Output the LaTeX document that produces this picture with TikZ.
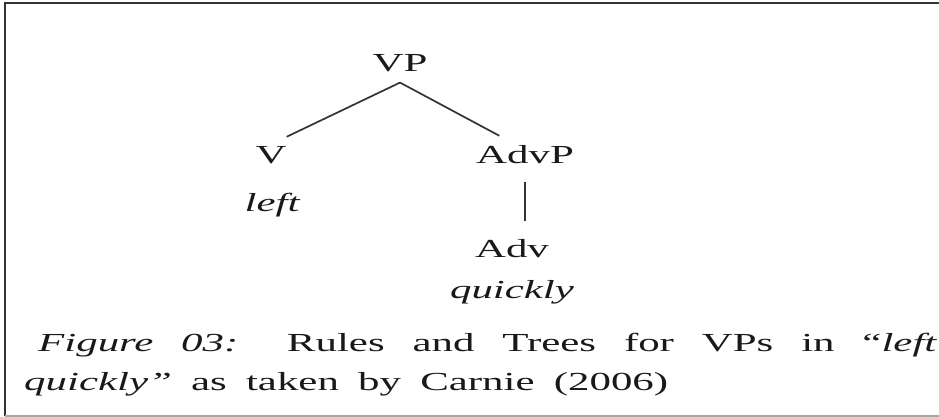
\documentclass[tikz,border=0pt]{standalone}
\usepackage{fontspec}
\setmainfont{Liberation Serif}[FakeStretch=1.65]
\usetikzlibrary{positioning}
\newcommand{\trf}{\fontsize{26}{30}\selectfont}

\begin{document}
\begin{tikzpicture}[x=1pt,y=1pt,
    cat/.style={font=\trf, text=black!90, inner xsep=0pt, inner ysep=10pt, anchor=base},
    word/.style={font=\trf\itshape, text=black!90, inner sep=0pt, anchor=base},
    capline/.style={font=\trf, text=black!90, inner sep=0pt, anchor=base west},
    branch/.style={draw=black!80, line width=1.7pt}]
   \useasboundingbox (0,0) rectangle (939,417);
   % frame
   \draw[black!80, line width=2pt] (5,0.5) -- (5,414) -- (939,414);
   \draw[black!35, line width=1.2pt] (5,1) -- (939,1);
   % tree
   \node[cat]  (vp)      at (400,345) {VP};
   \node[cat]  (v)       at (271,253) {V};
   \node[cat]  (advp)    at (525,253) {AdvP};
   \node[word] (left)    at (272,205) {left};
   \node[cat]  (adv)     at (512,159) {Adv};
   \node[word] (quickly) at (512,118) {quickly};
   \draw[branch] (vp.south) -- (v.north east);
   \draw[branch] (vp.south) -- (advp.143);
   \draw[branch, shorten <=8pt, shorten >=9pt] (advp.south) -- (advp.south |- adv.north);
   % caption
   \node[capline] (cap1) at (38,65)
      {\makebox[899pt][s]{\textit{Figure 03:} Rules and Trees for VPs in ``\textit{left}}};
   \node[capline] (cap2) at (24,26)
      {\makebox[644pt][s]{\textit{quickly''} as taken by Carnie (2006)}};
\end{tikzpicture}
\end{document}
